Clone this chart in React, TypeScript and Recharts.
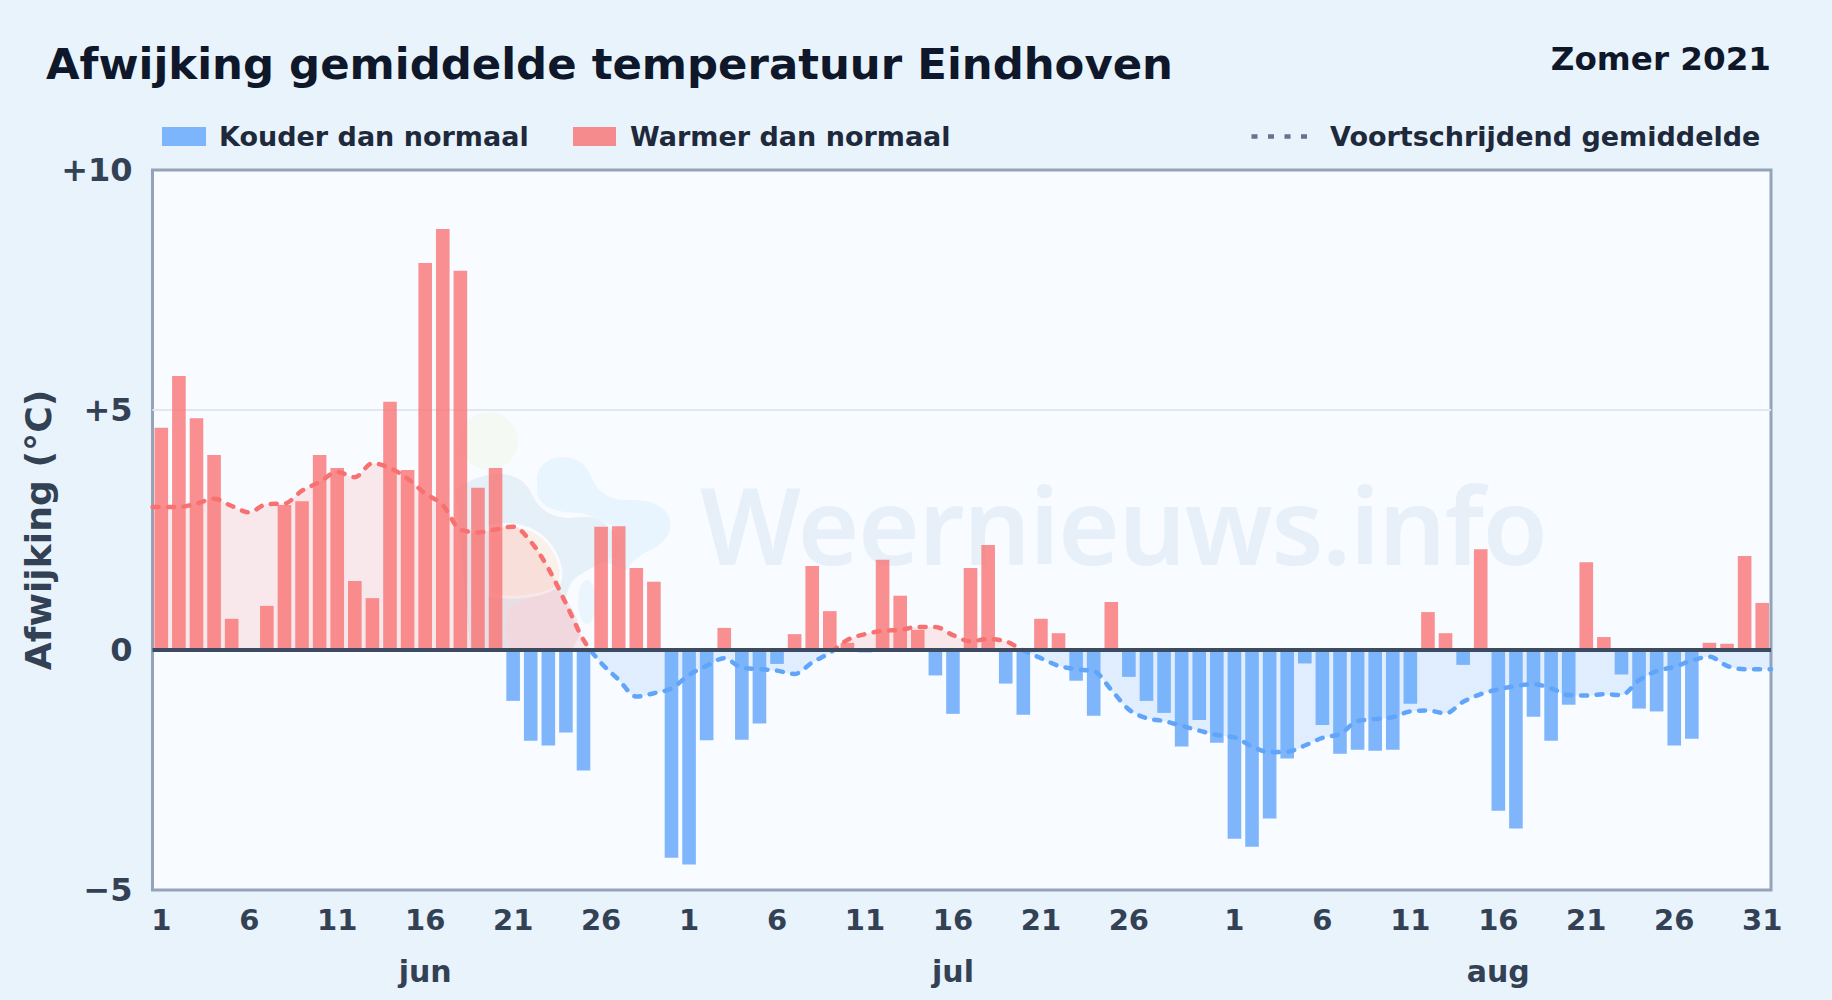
import {
  Area,
  Bar,
  CartesianGrid,
  ComposedChart,
  Line,
  ReferenceLine,
  XAxis,
  YAxis,
} from "recharts";

const months = ["jun", "jul", "aug"];
const monthLengths = [30, 31, 31];

// daily deviation from normal in degrees C
const deviations = [
  4.63, 5.71, 4.83, 4.06, 0.65, 0, 0.92, 3.02, 3.1, 4.06, 3.79, 1.44, 1.08, 5.17, 3.75,
  8.06, 8.77, 7.9, 3.38, 3.79, -1.06, -1.89, -1.99, -1.72, -2.51, 2.57, 2.58, 1.71, 1.42, -4.33,
  -4.47, -1.88, 0.46, -1.87, -1.53, -0.29, 0.33, 1.75, 0.81, 0.15, -0.05, 1.88, 1.13, 0.42, -0.53,
  -1.33, 1.71, 2.19, -0.7, -1.35, 0.65, 0.35, -0.64, -1.37, 1.0, -0.56, -1.06, -1.31, -2.01, -1.46,
  -1.93, -3.93, -4.1, -3.51, -2.26, -0.28, -1.56, -2.16, -2.08, -2.1, -2.08, -1.12, 0.79, 0.35, -0.31,
  2.1, -3.35, -3.72, -1.39, -1.89, -1.14, 1.83, 0.27, -0.51, -1.22, -1.28, -1.99, -1.85, 0.15, 0.13,
  1.96, 0.98,
];

// moving average, first and last entries sit on the plot edges
const movingAverage = [
  2.98, 2.98, 2.98, 3.05, 3.15, 3.0, 2.87, 3.04, 3.05, 3.32, 3.5, 3.71, 3.6, 3.89, 3.79, 3.57,
  3.26, 3.02, 2.51, 2.45, 2.51, 2.57, 2.26, 1.7, 0.97, 0.21, -0.27, -0.62, -0.97, -0.9, -0.8,
  -0.52, -0.33, -0.17, -0.37, -0.4, -0.43, -0.5, -0.26, -0.06, 0.21, 0.33, 0.4, 0.42, 0.48, 0.48,
  0.31, 0.18, 0.23, 0.18, -0.01, -0.17, -0.33, -0.4, -0.44, -0.83, -1.24, -1.42, -1.48, -1.58, -1.68,
  -1.77, -1.82, -2.01, -2.13, -2.12, -1.99, -1.83, -1.75, -1.48, -1.44, -1.4, -1.28, -1.26, -1.32, -1.08,
  -0.92, -0.82, -0.75, -0.71, -0.8, -0.94, -0.95, -0.92, -0.94, -0.63, -0.44, -0.35, -0.22, -0.14, -0.33,
  -0.4, -0.4, -0.4,
];

const yTicks = [-5, 0, 5, 10];
const dayLabels = [1, 6, 11, 16, 21, 26];
const lastTick = "aug 31";

const dates = months.flatMap((m, i) =>
  Array.from({ length: monthLengths[i] }, (_, d) => `${m} ${d + 1}`)
);
const dayTicks = [...months.flatMap((m) => dayLabels.map((d) => `${m} ${d}`)), lastTick];
const monthTicks = months.map((m) => `${m} 16`);

const barData = dates.map((date, i) => ({
  date,
  warm: deviations[i] > 0 ? deviations[i] : 0,
  cold: deviations[i] < 0 ? deviations[i] : 0,
}));
// positions in days from the left plot edge
const maData = movingAverage.map((ma, i) => ({
  pos: i === 0 ? 0 : i === movingAverage.length - 1 ? dates.length : i - 0.5,
  ma,
}));

const maMax = Math.max(...movingAverage);
const maMin = Math.min(...movingAverage);
const zeroAt = `${(maMax / (maMax - maMin)) * 100}%`;

const FONT = "'DejaVu Sans', sans-serif";
const INK = "#0f172a";
const LABEL = "#1e293b";
const AXIS = "#334155";
const RED = "#f87171";
const BLUE = "#60a5fa";
const PLOT_BG = "#f8fbff";

function Backdrop() {
  return (
    <svg width={1832} height={1000} style={{ position: "absolute", left: 0, top: 0 }} fontFamily={FONT} fontWeight={700}>
      <rect x={152.5} y={170} width={1618.5} height={720} fill={PLOT_BG} stroke="#94a3b8" strokeWidth={3} />

      {/* watermark */}
      <g>
        <ellipse cx={489} cy={441} rx={29} ry={29} fill="#f4faf3" />
        <path
          d="M537 477 C540 462 552 457 563 457 C578 457 587 466 592 478 C597 491 606 497 620 500 C636 500 660 498 669 517 C674 532 664 544 648 551 C637 557 630 563 627 570 L600 560 L618 528 L583 513 C565 513 545 512 537 495 Z"
          fill="#e9f5fe"
        />
        <path
          d="M455 490 C470 478 495 470 512 476 C525 480 530 490 534 498 C540 510 552 517 567 518 C580 518 592 514 603 522 C615 530 622 545 620 553 C605 562 585 570 573 580 C566 590 562 610 560 648 L470 648 Z"
          fill="#e6f0f8"
        />
        <ellipse cx={587} cy={602} rx={12} ry={25} fill="#eaf5fe" stroke={PLOT_BG} strokeWidth={6} />
        <path
          d="M490 526 C510 522 535 525 550 545 C562 562 565 580 555 588 C540 596 515 600 490 595 Z"
          fill="#f9f1ea"
          stroke={PLOT_BG}
          strokeWidth={3}
        />
        <path d="M507 613 C512 600 535 598 557 590 C570 600 582 625 580 635 L573 648 L512 648 C505 638 505 625 507 613 Z" fill="#f0e9f0" />
        <text x={700} y={565} fontSize={106} textLength={848} lengthAdjust="spacing" fontWeight={600} fontFamily="'Noto Sans', sans-serif" fill="#e7f0f9">
          Weernieuws.info
        </text>
      </g>

      <text x={46} y={79} fontSize={43.4} fill={INK}>Afwijking gemiddelde temperatuur Eindhoven</text>
      <text x={1771} y={70} fontSize={32.6} fill={INK} textAnchor="end">Zomer 2021</text>

      <rect x={162} y={127} width={44} height={19} fill={BLUE} fillOpacity={0.8} />
      <text x={219} y={146} fontSize={27} fill={LABEL}>Kouder dan normaal</text>
      <rect x={573} y={127} width={43} height={19} fill={RED} fillOpacity={0.8} />
      <text x={630} y={146} fontSize={27} fill={LABEL}>Warmer dan normaal</text>
      <line x1={1251.5} y1={136.5} x2={1310} y2={136.5} stroke="#64748b" strokeWidth={4.5} strokeDasharray="6 10.5" />
      <text x={1330} y={146} fontSize={27} fill={LABEL}>Voortschrijdend gemiddelde</text>

      <text transform="translate(51 530) rotate(-90)" fontSize={36.2} fill={AXIS} textAnchor="middle">
        Afwijking (°C)
      </text>
    </svg>
  );
}

export default function App() {
  const xTick = { fontFamily: FONT, fontWeight: 700, fontSize: 29, fill: AXIS };
  const monthTick = { fontFamily: FONT, fontWeight: 700, fontSize: 30, fill: AXIS };
  const yTick = { fontFamily: FONT, fontWeight: 700, fontSize: 32, fill: AXIS };
  return (
    <div
      style={{
        position: "absolute",
        left: 0,
        top: 0,
        width: 1832,
        height: 1000,
        overflow: "hidden",
        background: "#e9f3fc",
      }}
    >
      <Backdrop />
      <div style={{ position: "absolute", left: 0, top: 0 }}>
        <ComposedChart
          width={1832}
          height={1000}
          data={barData}
          margin={{ top: 170, right: 61, bottom: 0, left: 0 }}
          barSize={13.6}
        >
          <defs>
            <linearGradient id="maFill" x1="0" y1="0" x2="0" y2="1">
              <stop offset={zeroAt} stopColor={RED} stopOpacity={0.14} />
              <stop offset={zeroAt} stopColor={BLUE} stopOpacity={0.16} />
            </linearGradient>
            <linearGradient id="maStroke" x1="0" y1="0" x2="0" y2="1">
              <stop offset={zeroAt} stopColor={RED} />
              <stop offset={zeroAt} stopColor={BLUE} />
            </linearGradient>
          </defs>
          <CartesianGrid vertical={false} horizontalValues={[5]} stroke="#e2e8f0" strokeWidth={2} />
          <XAxis
            dataKey="date"
            ticks={dayTicks}
            interval={0}
            tickFormatter={(d: string) => d.split(" ")[1]}
            tick={xTick}
            axisLine={false}
            tickLine={false}
            tickSize={0}
            tickMargin={19}
            height={50}
          />
          <XAxis
            xAxisId="month"
            dataKey="date"
            ticks={monthTicks}
            interval={0}
            tickFormatter={(d: string) => d.split(" ")[0]}
            tick={monthTick}
            axisLine={false}
            tickLine={false}
            tickSize={0}
            tickMargin={21}
            height={60}
          />
          <XAxis xAxisId="ma" type="number" dataKey="pos" domain={[0, dates.length]} height={0} hide />
          <YAxis
            domain={[-5, 10]}
            ticks={yTicks}
            interval={0}
            tickFormatter={(v: number) => (v > 0 ? `+${v}` : v < 0 ? `−${-v}` : "0")}
            tick={yTick}
            axisLine={false}
            tickLine={false}
            tickSize={0}
            tickMargin={20}
            width={152.5}
          />
          <Area
            xAxisId="ma"
            data={maData}
            dataKey="ma"
            type="monotone"
            baseValue={0}
            fill="url(#maFill)"
            fillOpacity={1}
            stroke="none"
            isAnimationActive={false}
          />
          <Bar dataKey="warm" stackId="dev" fill={RED} fillOpacity={0.78} isAnimationActive={false} />
          <Bar dataKey="cold" stackId="dev" fill={BLUE} fillOpacity={0.8} isAnimationActive={false} />
          <Line
            xAxisId="ma"
            data={maData}
            dataKey="ma"
            type="monotone"
            stroke="url(#maStroke)"
            strokeWidth={4.5}
            strokeDasharray="6 9.5"
            strokeLinecap="round"
            dot={false}
            activeDot={false}
            isAnimationActive={false}
          />
          <ReferenceLine y={0} stroke="#3d4b60" strokeWidth={4} />
        </ComposedChart>
      </div>
    </div>
  );
}
